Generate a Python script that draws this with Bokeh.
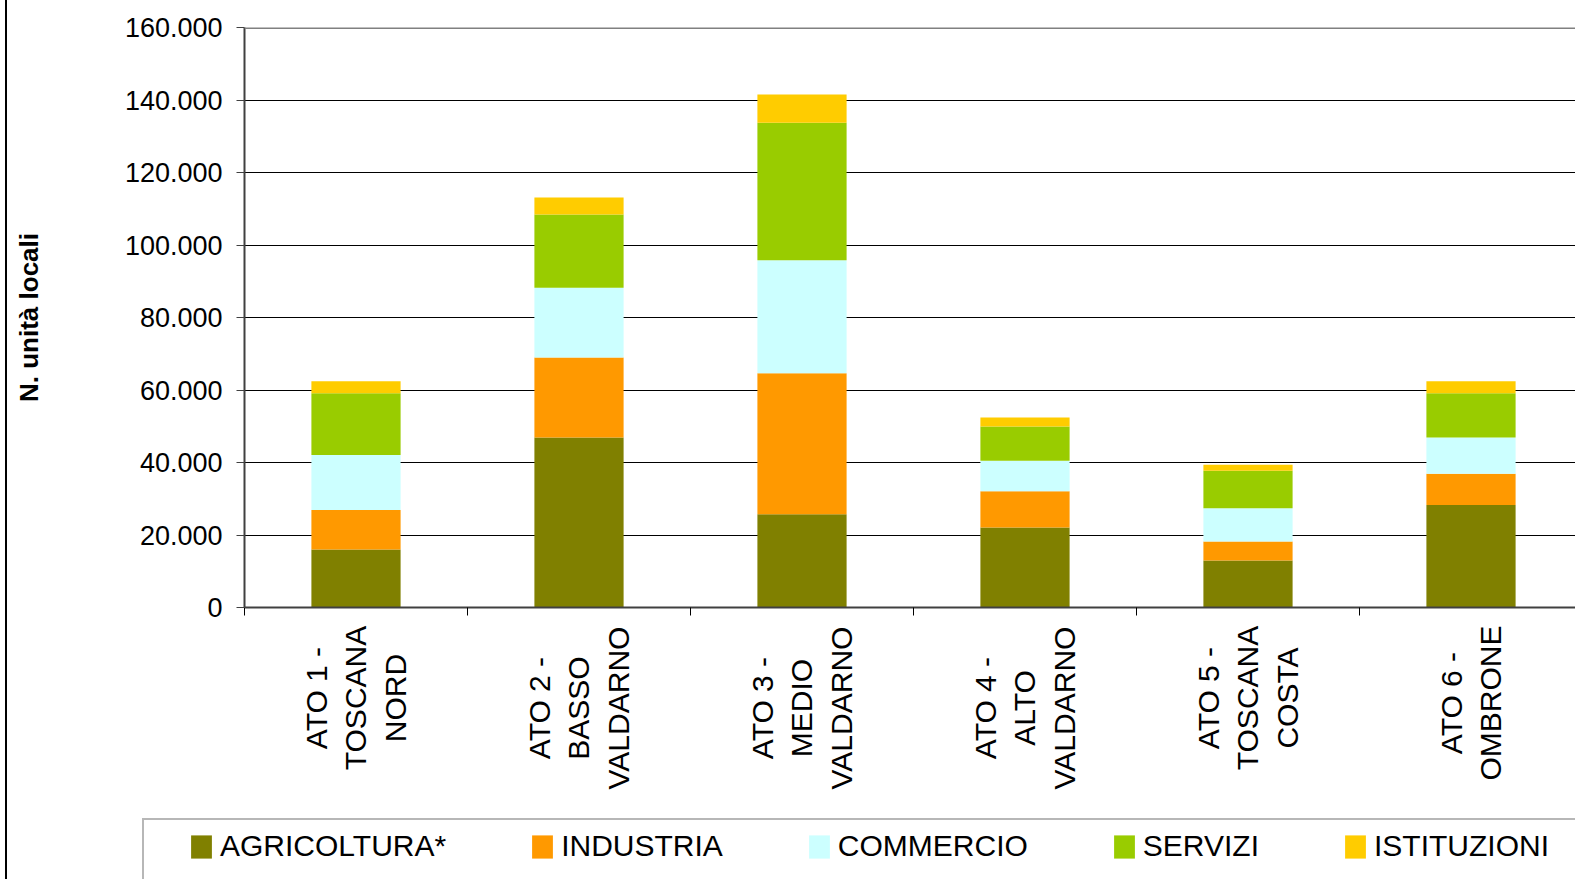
from math import pi
from bokeh.plotting import figure
from bokeh.layouts import column
from bokeh.models import (Range1d, FixedTicker, Legend, LegendItem, Span, ColumnDataSource)
from bokeh.core.properties import value
from bokeh.embed import file_html
from bokeh.resources import INLINE

categories = ["ATO 1 -\nTOSCANA\nNORD", "ATO 2 -\nBASSO\nVALDARNO", "ATO 3 -\nMEDIO\nVALDARNO",
              "ATO 4 -\nALTO\nVALDARNO", "ATO 5 -\nTOSCANA\nCOSTA", "ATO 6 -\nOMBRONE"]
series = ["AGRICOLTURA*", "INDUSTRIA", "COMMERCIO", "SERVIZI", "ISTITUZIONI"]
colors = ["#808000", "#FF9900", "#CCFFFF", "#99CC00", "#FFCC00"]
agricoltura = [16000, 46900, 25700, 22100, 13000, 28300]
industria = [10900, 22100, 38900, 10000, 5200, 8600]
commercio = [15200, 19200, 31200, 8400, 9200, 10000]
servizi = [17000, 20200, 37900, 9400, 10300, 12200]
istituzioni = [3300, 4700, 7800, 2500, 1700, 3300]
y_ticks = [0, 20000, 40000, 60000, 80000, 100000, 120000, 140000, 160000]
y_tick_labels = ["0", "20.000", "40.000", "60.000", "80.000", "100.000", "120.000", "140.000", "160.000"]

FONT = "Liberation Sans"
W = 1575
H = 879
LEFT = 244
CAT_W = 223
TOP_H = 624
BOT_H = H - TOP_H
LABEL_PX = 30
LABEL_TOP = 625  # page row where the rotated category labels start

# approximate advance widths (em) of the sans font, used to top-align the centred label blocks
ADV = {"A": .667, "B": .667, "C": .722, "D": .722, "E": .667, "I": .278, "L": .556, "M": .833,
       "N": .722, "O": .778, "R": .722, "S": .667, "T": .611, "V": .667, " ": .278, "-": .333}


def text_len(s):
    return sum(ADV.get(ch, .556) for ch in s) * LABEL_PX


# ---------------- main chart ----------------
p = figure(width=W, height=TOP_H, output_backend="svg", toolbar_location=None,
           x_range=Range1d(0, (W - LEFT) / CAT_W), y_range=Range1d(0, 160000),
           min_border_left=LEFT, min_border_top=27, min_border_bottom=TOP_H - 607, min_border_right=0,
           frame_align=False)
p.outline_line_color = None
p.border_fill_color = None
p.background_fill_color = "#ffffff"

data = [agricoltura, industria, commercio, servizi, istituzioni]
centers = [i + 0.5 for i in range(len(categories))]
bottoms = [0] * len(categories)
for vals, col in zip(data, colors):
    tops = [b + v for b, v in zip(bottoms, vals)]
    p.vbar(x=centers, width=0.4, bottom=bottoms, top=tops, fill_color=col, line_color=None)
    bottoms = tops

p.xgrid.visible = False
p.ygrid.ticker = FixedTicker(ticks=y_ticks)
p.ygrid.grid_line_color = "#000000"
p.ygrid.grid_line_width = 1
p.add_layout(Span(location=160000, dimension="width", line_color="#808080", line_width=3))

yax = p.yaxis[0]
yax.ticker = FixedTicker(ticks=y_ticks)
yax.major_label_overrides = {t: s for t, s in zip(y_ticks, y_tick_labels)}
yax.major_label_text_font = FONT
yax.major_label_text_font_size = "27px"
yax.major_label_text_color = "#000000"
yax.major_label_standoff = 14
yax.major_tick_out = 8
yax.major_tick_in = 0
yax.minor_tick_line_color = None
yax.axis_line_color = "#404040"
yax.axis_line_width = 2
yax.major_tick_line_color = "#404040"
yax.axis_label = "N. unità locali"
yax.axis_label_text_font = FONT
yax.axis_label_text_font_style = "bold"
yax.axis_label_text_font_size = "26px"
yax.axis_label_text_color = "#000000"
yax.axis_label_standoff = 78

xax = p.xaxis[0]
xax.ticker = FixedTicker(ticks=centers, minor_ticks=list(range(len(categories) + 1)))
xax.major_label_overrides = {c: "" for c in centers}
xax.major_label_standoff = 0
xax.major_tick_line_color = None
xax.major_tick_out = 8
xax.minor_tick_out = 8
xax.minor_tick_in = 0
xax.minor_tick_line_color = "#000000"
xax.axis_line_color = "#404040"
xax.axis_line_width = 2

# ---------------- category labels + legend ----------------
q = figure(width=W, height=BOT_H, output_backend="svg", toolbar_location=None,
           x_range=Range1d(-LEFT / CAT_W, (W - LEFT) / CAT_W), y_range=Range1d(0, BOT_H),
           x_axis_location=None, y_axis_location=None,
           min_border_left=0, min_border_top=0, min_border_bottom=0, min_border_right=0,
           frame_align=False)
q.outline_line_color = None
q.border_fill_color = None
q.background_fill_color = None
q.grid.visible = False

label_y = [H - (LABEL_TOP + max(text_len(line) for line in c.split("\n")) / 2) for c in categories]
lab_src = ColumnDataSource(dict(x=centers, y=label_y, text=categories))
q.text(x="x", y="y", text="text", source=lab_src, angle=pi / 2, text_align="center",
       text_baseline="middle", text_font=value(FONT), text_font_size=f"{LABEL_PX}px",
       text_line_height=1.2, text_color="#000000")

# legend box (a dummy item used as the frame)
dummy = q.scatter([0], [-100], size=1, fill_alpha=0, line_alpha=0)
box = Legend(items=[LegendItem(label=" ", renderers=[dummy])], location=(142, -33),
             orientation="horizontal", glyph_width=1600, glyph_height=90, padding=0, margin=0,
             border_line_color="#707070", border_line_width=2, background_fill_alpha=0,
             label_text_font_size="30px")
q.add_layout(box)

leg_renderers = [q.vbar(x=[0], width=0, bottom=[-100], top=[-100], fill_color=c, line_color=None)
                 for c in colors]
legend = Legend(items=[LegendItem(label=s, renderers=[r]) for s, r in zip(series, leg_renderers)],
                location=(188, 16), orientation="horizontal",
                glyph_width=26, glyph_height=29, label_standoff=6, spacing=83,
                padding=0, margin=0, border_line_color=None, background_fill_alpha=0,
                label_text_font=FONT, label_text_font_size="30px", label_text_color="#000000")
q.add_layout(legend)

layout = column(p, q, spacing=0, styles={
    "background": "linear-gradient(to right, #ffffff 0px, #ffffff 5px, #000000 5px, "
                  "#000000 7px, #ffffff 7px, #ffffff 100%)"})
open("out.html", "w").write(file_html(layout, INLINE))
